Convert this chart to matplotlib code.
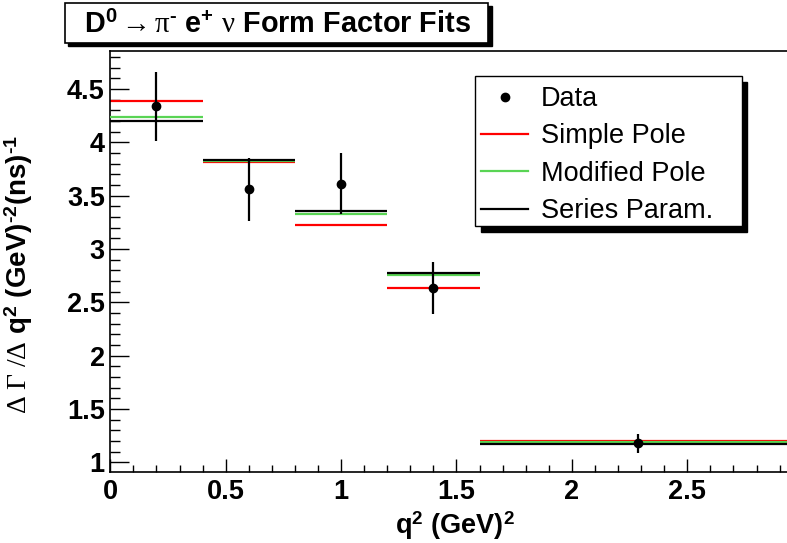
import matplotlib
matplotlib.use("Agg")
import matplotlib.pyplot as plt
from matplotlib.patches import Rectangle
from matplotlib.lines import Line2D
from matplotlib.ticker import MultipleLocator

plt.rcParams['font.family'] = ['Liberation Sans', 'DejaVu Sans']
plt.rcParams['mathtext.fontset'] = 'custom'
plt.rcParams['mathtext.rm'] = 'Liberation Sans:bold'
plt.rcParams['mathtext.bf'] = 'Liberation Sans:bold'
plt.rcParams['mathtext.sf'] = 'Liberation Serif'
plt.rcParams['mathtext.it'] = 'Liberation Serif:italic'

# q^2 bins (GeV^2)
bin_lo = [0.0, 0.4, 0.8, 1.2, 1.6]
bin_hi = [0.4, 0.8, 1.2, 1.6, 2.98]
q2_pts = [0.2, 0.6, 1.0, 1.4, 2.286]

data_val = [4.336, 3.561, 3.608, 2.631, 1.178]
data_up = [4.661, 3.855, 3.896, 2.874, 1.262]
data_dn = [4.011, 3.262, 3.327, 2.387, 1.090]

simple_pole = [4.389, 3.812, 3.227, 2.631, 1.200]
modified_pole = [4.236, 3.825, 3.324, 2.753, 1.186]
series_param = [4.199, 3.833, 3.355, 2.777, 1.172]

W, H = 787, 543
GREEN = '#59d454'
FS = 19.5


def fig_rect(x0, y0, x1, y1):
    # pixel box (top-left origin) -> figure fraction
    return (x0 / W, 1 - y1 / H, (x1 - x0) / W, (y1 - y0) / H)


def box(x0, y0, x1, y1, z, **kw):
    r = fig_rect(x0, y0, x1, y1)
    fig.patches.append(Rectangle(r[:2], r[2], r[3], transform=fig.transFigure,
                                 zorder=z, **kw))


fig = plt.figure(figsize=(W / 100, H / 100), dpi=100)
ax = fig.add_axes(fig_rect(110.3, 51, 787, 472))

ax.hlines(simple_pole, bin_lo, bin_hi, color='red', lw=1.6, zorder=2)
ax.hlines(modified_pole, bin_lo, bin_hi, color=GREEN, lw=1.6, zorder=3)
ax.hlines(series_param, bin_lo, bin_hi, color='black', lw=1.6, zorder=4)

yerr = [[v - d for v, d in zip(data_val, data_dn)],
        [u - v for v, u in zip(data_val, data_up)]]
ax.errorbar(q2_pts, data_val, yerr=yerr, fmt='o', color='black', ms=6,
            lw=1.6, capsize=0, zorder=5)

ax.set_xlim(0, 2.932)
ax.set_ylim(0.909, 4.855)

ax.xaxis.set_major_locator(MultipleLocator(0.5))
ax.xaxis.set_minor_locator(MultipleLocator(0.1))
ax.yaxis.set_major_locator(MultipleLocator(0.5))
ax.yaxis.set_minor_locator(MultipleLocator(0.1))
ax.xaxis.set_major_formatter(plt.FuncFormatter(lambda v, p: ('%g' % v)))
ax.yaxis.set_major_formatter(plt.FuncFormatter(lambda v, p: ('%g' % v)))

ax.tick_params(axis='both', which='both', direction='in', width=1)
ax.tick_params(axis='x', which='major', length=9.5, pad=5)
ax.tick_params(axis='x', which='minor', length=4.8)
ax.tick_params(axis='y', which='major', length=14, pad=4)
ax.tick_params(axis='y', which='minor', length=7)
for lab in ax.get_xticklabels() + ax.get_yticklabels():
    lab.set_fontsize(FS)
    lab.set_fontweight('bold')
ax.spines['right'].set_visible(False)
for s in ['left', 'bottom', 'top']:
    ax.spines[s].set_linewidth(1.2)

ax.set_xlabel(r'q$^{2}$ (GeV)$^{2}$', fontsize=FS, fontweight='bold')
ax.set_ylabel(r'$\mathsf{\Delta\ \Gamma\ /\Delta}$ q$^{2}$ '
              r'(GeV)$^{\text{-2}}$(ns)$^{\text{-1}}$',
              fontsize=20, fontweight='bold')
ax.yaxis.set_label_coords(-0.112, 0.47)
ax.xaxis.set_label_coords(0.51, -0.09)

# title box with shadow
box(68, 6, 492, 46, 1, color='black')
box(65, 3, 488, 43, 2, facecolor='white', edgecolor='black', lw=1.2)
fig.text(278 / W, 1 - 25 / H,
         r'D$^{0}\mathsf{\rightarrow\pi}^{\text{-}}$ e$^{\text{+}}$ '
         r'$\mathsf{\nu}$ Form Factor Fits',
         fontsize=20.8, fontweight='bold', ha='center', va='center', zorder=3)

# legend box with shadow
box(481, 82, 747, 232, 6, color='black')
box(475, 76, 742, 226, 7, facecolor='white', edgecolor='black', lw=1)
handles = [
    Line2D([], [], ls='none', marker='o', color='black', ms=6),
    Line2D([], [], color='red', lw=1.6),
    Line2D([], [], color=GREEN, lw=1.6),
    Line2D([], [], color='black', lw=1.6),
]
labels = ['Data', 'Simple Pole', 'Modified Pole', 'Series Param.']
leg = fig.legend(handles, labels, loc='upper left',
                 bbox_to_anchor=(481 / W, 1 - 86 / H), frameon=False,
                 fontsize=FS, handlelength=1.75, handletextpad=0.45,
                 labelspacing=0.42, borderaxespad=0, borderpad=0.0)
leg.set_zorder(8)

fig.savefig('out.png', dpi=100)
